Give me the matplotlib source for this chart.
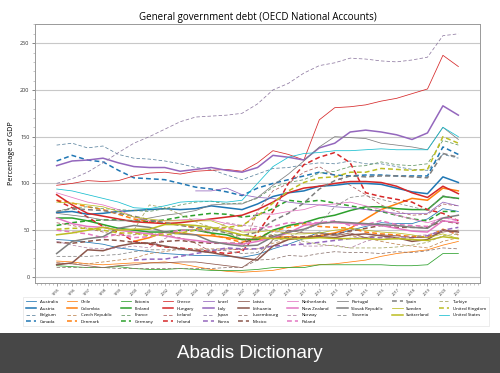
import numpy as np
import matplotlib
matplotlib.use("Agg")
import matplotlib.pyplot as plt
from matplotlib.patches import Rectangle
from matplotlib.ticker import MultipleLocator
from matplotlib.colors import to_rgb

plt.rcParams['font.family'] = ['Open Sans', 'DejaVu Sans']
plt.rcParams['lines.scale_dashes'] = False

N = np.nan
years = list(range(1995, 2022))

countries = ["Australia", "Austria", "Belgium", "Canada", "Chile", "Colombia",
             "Czech Republic", "Denmark", "Estonia", "Finland", "France", "Germany",
             "Greece", "Hungary", "Iceland", "Ireland", "Israel", "Italy", "Japan",
             "Korea", "Latvia", "Lithuania", "Luxembourg", "Mexico", "Netherlands",
             "New Zealand", "Norway", "Poland", "Portugal", "Slovak Republic",
             "Slovenia", "Spain", "Sweden", "Switzerland", "Turkiye",
             "United Kingdom", "United States"]

australia = [40, 39, 37, 35, 31, 29, 27, 25, 24, 23, 23, 22, 21, 24, 30, 35, 41, 48, 45, 50, 54, 58, 57, 57, 62, 73, 70]
austria = [69, 70, 67, 68, 70, 71, 72, 73, 72, 73, 76, 74, 72, 78, 86, 90, 92, 97, 98, 100, 100, 99, 95, 91, 89, 107, 101]
belgium = [141, 143, 138, 140, 131, 127, 126, 124, 121, 117, 115, 109, 104, 110, 116, 117, 120, 122, 121, 124, 121, 121, 118, 115, 114, 131, 127]
canada = [124, 130, 125, 123, 114, 106, 105, 104, 100, 96, 94, 91, 87, 95, 100, 104, 108, 112, 109, 108, 109, 109, 108, 108, 108, 139, 131]
chile = [17, 16, 14, 13, 14, 15, 15, 16, 14, 11, 8, 6, 5, 6, 7, 10, 12, 13, 14, 16, 18, 22, 25, 27, 29, 34, 38]
colombia = [N, N, N, N, N, 38, 42, 48, 47, 45, 44, 42, 40, 40, 42, 43, 42, 44, 47, 52, 62, 72, 78, 84, 82, 95, 92]
czech = [15, 14, 14, 16, 18, 20, 25, 27, 30, 30, 30, 30, 29, 30, 36, 40, 42, 46, 46, 44, 42, 38, 35, 33, 31, 38, 42]
denmark = [82, 79, 75, 72, 67, 62, 59, 58, 56, 52, 46, 41, 37, 42, 49, 53, 57, 54, 53, 52, 48, 46, 45, 43, 43, 51, 45]
estonia = [12, 11, 10, 10, 11, 9, 8, 8, 9, 8, 7, 7, 7, 8, 10, 10, 10, 13, 13, 13, 13, 13, 12, 12, 13, 25, 25]
finland = [63, 63, 60, 56, 52, 50, 48, 48, 50, 50, 47, 45, 40, 40, 50, 55, 58, 63, 66, 71, 75, 75, 73, 72, 72, 86, 84]
france = [70, 74, 75, 73, 72, 71, 70, 73, 77, 80, 81, 78, 79, 84, 96, 101, 104, 111, 113, 118, 119, 123, 120, 119, 121, 146, 141]
germany = [55, 58, 60, 61, 61, 60, 59, 61, 64, 66, 68, 67, 64, 66, 73, 82, 80, 82, 79, 76, 73, 70, 66, 62, 60, 70, 70]
greece = [98, 100, 103, 102, 103, 108, 111, 112, 110, 113, 114, 115, 113, 122, 135, 131, 125, 168, 181, 182, 184, 188, 191, 196, 201, 237, 225]
hungary = [88, 77, 68, 65, 62, 59, 58, 57, 58, 60, 62, 64, 66, 72, 80, 90, 95, 97, 100, 102, 102, 101, 97, 90, 85, 97, 89]
iceland = [58, 55, 52, 48, 44, 45, 47, 44, 42, 36, 27, 30, 29, 70, 92, 100, 112, 118, 108, 98, 88, 77, 70, 66, 67, 78, 76]
ireland = [82, 74, 64, 54, 48, 38, 35, 32, 31, 29, 27, 25, 27, 47, 70, 100, 120, 128, 133, 122, 90, 86, 83, 80, 72, 68, 60]
israel = [N, N, N, N, N, N, N, N, N, 92, 92, 95, 88, 85, 84, 80, 78, 77, 75, 74, 72, 70, 68, 68, 68, 80, 76]
italy = [119, 124, 125, 127, 122, 118, 117, 117, 113, 115, 117, 114, 112, 117, 130, 128, 125, 138, 143, 155, 157, 155, 152, 147, 154, 183, 173]
japan = [100, 105, 112, 122, 133, 143, 150, 158, 166, 171, 172, 173, 175, 185, 200, 207, 218, 226, 229, 234, 233, 231, 230, 232, 235, 258, 260]
korea = [N, N, N, N, N, 18, 19, 19, 22, 25, 28, 31, 30, 30, 33, 34, 35, 37, 39, 41, 42, 42, 41, 42, 44, 50, 53]
latvia = [15, 14, 12, 10, 12, 13, 15, 15, 16, 16, 14, 12, 10, 21, 40, 50, 47, 47, 44, 47, 42, 45, 44, 42, 42, 48, 50]
lithuania = [13, 15, 29, 28, 33, 36, 36, 33, 30, 28, 26, 23, 20, 18, 33, 40, 42, 43, 42, 45, 46, 44, 42, 38, 40, 50, 48]
luxembourg = [10, 10, 10, 10, 9, 9, 9, 9, 9, 9, 9, 10, 10, 18, 19, 23, 22, 25, 27, 26, 26, 25, 27, 26, 28, 31, 30]
mexico = [37, 36, 38, 40, 39, 37, 36, 38, 39, 37, 36, 36, 36, 42, 44, 42, 43, 44, 46, 49, 52, 55, 53, 53, 53, 60, 57]
netherlands = [90, 85, 80, 77, 72, 64, 60, 60, 61, 62, 61, 57, 54, 68, 67, 70, 72, 77, 78, 80, 76, 72, 66, 62, 58, 63, 61]
new_zealand = [63, 57, 54, 53, 50, 48, 46, 44, 41, 39, 37, 36, 35, 38, 42, 47, 55, 58, 58, 57, 56, 55, 52, 49, 48, 60, 58]
norway = [38, 34, 31, 30, 31, 33, 31, 41, 49, 50, 48, 58, 55, 54, 48, 48, 33, 33, 34, 31, 38, 42, 42, 44, 45, 50, 45]
poland = [50, 48, 46, 42, 46, 42, 43, 47, 50, 50, 51, 52, 49, 52, 54, 58, 58, 58, 60, 55, 56, 60, 56, 55, 54, 64, 60]
portugal = [68, 66, 64, 61, 60, 60, 63, 66, 68, 71, 77, 78, 78, 85, 98, 110, 124, 139, 150, 149, 148, 143, 141, 139, 136, 160, 147]
slovakia = [25, 38, 41, 43, 52, 55, 53, 48, 46, 45, 38, 35, 33, 34, 43, 48, 51, 57, 59, 58, 57, 56, 55, 53, 52, 63, 66]
slovenia = [22, 22, 22, 23, 24, 27, 29, 29, 29, 29, 29, 28, 25, 26, 38, 42, 50, 57, 75, 85, 87, 83, 79, 75, 71, 87, 83]
spain = [70, 73, 72, 71, 68, 65, 61, 58, 55, 53, 51, 47, 44, 48, 60, 68, 79, 94, 103, 108, 107, 108, 108, 107, 106, 132, 128]
sweden = [80, 79, 77, 75, 70, 64, 62, 60, 60, 60, 60, 54, 48, 48, 50, 46, 46, 47, 50, 52, 50, 48, 47, 45, 42, 46, 41]
switzerland = [45, 47, 50, 53, 50, 51, 51, 56, 56, 55, 53, 49, 45, 42, 41, 41, 41, 42, 41, 41, 41, 40, 41, 40, 39, 43, 41]
turkiye = [N, N, N, N, N, 50, 77, 74, 67, 59, 53, 47, 41, 41, 46, 42, 38, 35, 33, 31, 31, 31, 32, 34, 37, 44, 46]
uk = [51, 52, 52, 50, 47, 47, 44, 45, 47, 50, 52, 53, 55, 65, 79, 92, 101, 106, 107, 112, 112, 116, 115, 114, 115, 150, 143]
us = [94, 92, 88, 84, 80, 74, 73, 76, 80, 81, 81, 80, 82, 100, 118, 128, 132, 133, 135, 135, 136, 137, 136, 136, 136, 160, 150]

series = [australia, austria, belgium, canada, chile, colombia, czech, denmark,
          estonia, finland, france, germany, greece, hungary, iceland, ireland,
          israel, italy, japan, korea, latvia, lithuania, luxembourg, mexico,
          netherlands, new_zealand, norway, poland, portugal, slovakia, slovenia,
          spain, sweden, switzerland, turkiye, uk, us]

tab10 = plt.rcParams['axes.prop_cycle'].by_key()['color']

fig = plt.figure(figsize=(5.0, 3.73), dpi=100)
ax = fig.add_axes([35/500, 1-283/373, 445/500, 259/373])

handles = []
for i, (name, vals) in enumerate(zip(countries, series)):
    base = np.array(to_rgb(tab10[(i // 4) % 10]))
    style = i % 4
    if style == 0:
        kw = dict(lw=0.55, ls='-', color=base)
    elif style == 1:
        kw = dict(lw=1.1, ls='-', color=base)
    elif style == 2:
        col = 0.45 * base + 0.55 * np.array([0.55, 0.55, 0.55])
        kw = dict(lw=0.55, ls=(0, (2.5, 1.5)), color=col)
    else:
        kw = dict(lw=1.1, ls=(0, (3.5, 2.2)), color=base)
    ln, = ax.plot(years, np.array(vals, dtype=float), label=name, **kw)
    handles.append(ln)

ax.set_xlim(1993.6, 2022.4)
ax.set_ylim(-6.5, 270.5)
ax.set_yticks([0, 50, 100, 150, 200, 250])
ax.set_xticks(years)
ax.set_xticklabels([str(y) for y in years], rotation=45, ha='center', fontsize=2.8, color='#333333')
ax.yaxis.set_minor_locator(MultipleLocator(10))
ax.xaxis.set_minor_locator(MultipleLocator(0.25))
ax.tick_params(axis='y', labelsize=4, colors='#555555', length=2, width=0.5, pad=2)
ax.tick_params(axis='y', labelcolor='#333333')
ax.tick_params(axis='x', length=2, width=0.5, colors='#777777', pad=1.5)
ax.tick_params(axis='x', labelcolor='#333333')
ax.tick_params(which='minor', length=1.2, width=0.4, colors='#999999')
ax.grid(axis='y', color='#c8c8c8', lw=0.8)
ax.set_axisbelow(True)
for s in ax.spines.values():
    s.set_color('#999999')
    s.set_linewidth(0.7)

ax.set_title("General government debt (OECD National Accounts)", fontsize=7, pad=3)
ax.set_ylabel("Percentage of GDP", fontsize=5.2, labelpad=4)

leg = fig.legend(handles=handles, loc='upper center', bbox_to_anchor=(256/500, 1-295/373),
                 ncol=10, fontsize=3.2, handlelength=2.4, handletextpad=0.8,
                 columnspacing=2.0, labelspacing=0.55, borderpad=0.6,
                 frameon=True, fancybox=False, edgecolor='#dddddd')
leg.get_frame().set_linewidth(0.5)

fig.patches.append(Rectangle((0, 0), 1, 40/373, transform=fig.transFigure,
                             facecolor='#474747', edgecolor='none', zorder=0))
fig.text(0.5, 15.5/373, "Abadis Dictionary", color='white', fontsize=13.5,
         ha='center', va='baseline', family='Liberation Sans')

fig.savefig("out.png", dpi=100)
